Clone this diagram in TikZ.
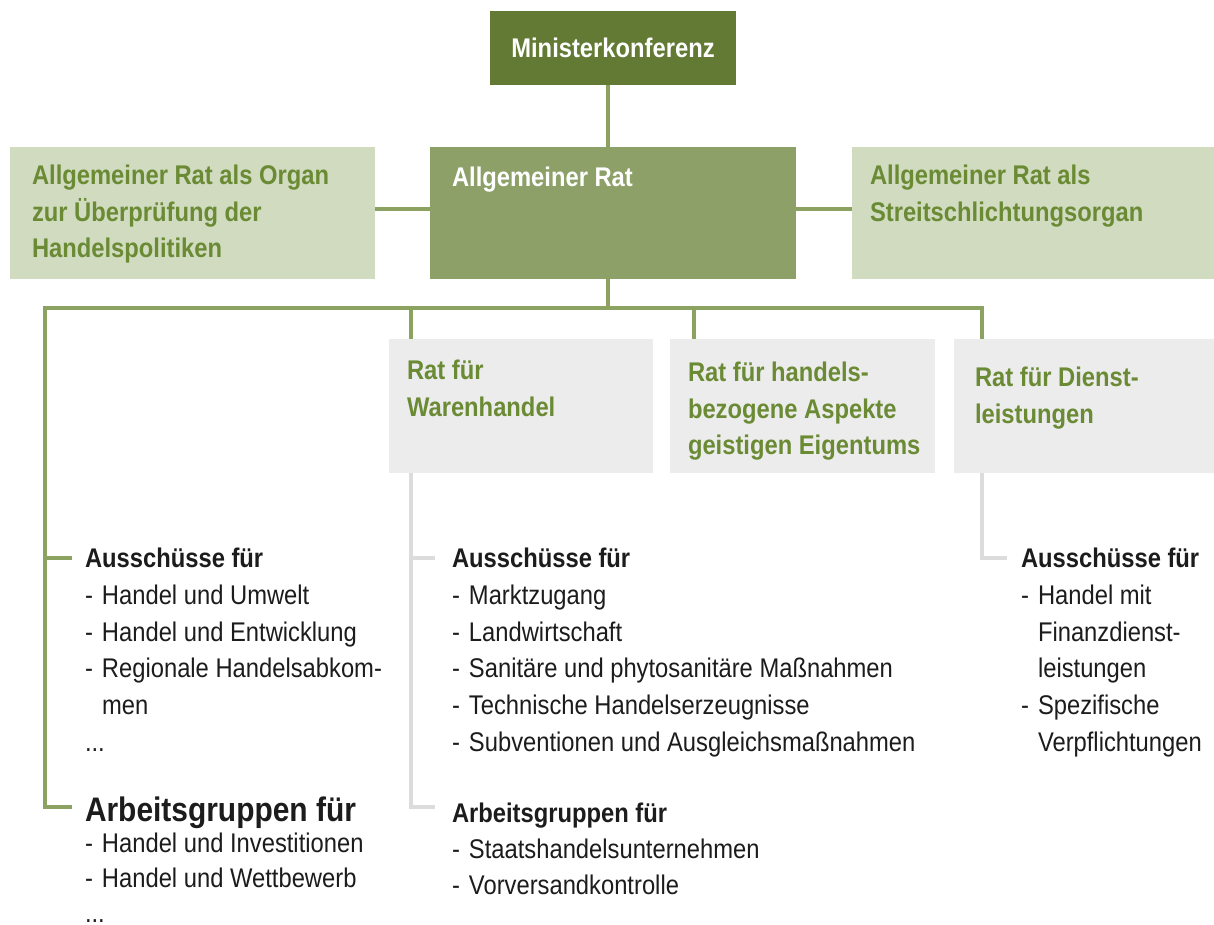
\documentclass[tikz,border=0pt]{standalone}
\usepackage{fontspec}
\setmainfont[FakeStretch=0.88]{Liberation Sans}
\usetikzlibrary{positioning}
\definecolor{mkgreen}{HTML}{627A34}
\definecolor{argreen}{HTML}{8CA067}
\definecolor{palegreen}{HTML}{D0DBBF}
\definecolor{textgreen}{HTML}{6A8A34}
\definecolor{linegreen}{HTML}{8BA261}
\definecolor{boxgrey}{HTML}{ECECEC}
\definecolor{linegrey}{HTML}{DCDCDC}
\definecolor{listblack}{HTML}{1C1C1C}
\newcommand{\itemdash}{\makebox[17pt][l]{-}}
\newcommand{\itemgap}{\hspace*{17pt}}

\begin{document}
\begin{tikzpicture}[x=1pt, y=-1pt,
    every node/.style={inner sep=0pt, outer sep=0pt, anchor=north west},
    orgbox/.style={minimum height=132pt},
    darkbox/.style={fill=mkgreen, text=white, font=\fontsize{27}{36.8}\selectfont\bfseries},
    midbox/.style={orgbox, fill=argreen},
    palebox/.style={orgbox, fill=palegreen},
    greybox/.style={minimum height=134pt, fill=boxgrey},
    greentext/.style={text=textgreen, align=left, font=\fontsize{27}{36.6}\selectfont\bfseries},
    whitetext/.style={greentext, text=white},
    listtext/.style={text=listblack, align=left, font=\fontsize{27}{36.8}\selectfont},
    greenline/.style={draw=linegreen, line width=4pt},
    greyline/.style={draw=linegrey, line width=4pt}]
    \fill[white] (0,0) rectangle (1214,925);
    %
    \node[darkbox, minimum width=246pt, minimum height=74pt, anchor=center]
        (mk) at (613,48) {Ministerkonferenz};
    \node[midbox, minimum width=366pt] (ar) at (430,147) {};
    \node[palebox, minimum width=365pt] (tprb) at (10,147) {};
    \node[palebox, minimum width=362pt] (dsb) at (852,147) {};

    \node[greybox, minimum width=264pt] (waren) at (389,339) {};
    \node[greybox, minimum width=265pt] (trips) at (670,339) {};
    \node[greybox, minimum width=260pt] (dienst) at (954,339) {};

    % box texts
    \node[whitetext] (artext) at (452,167) {Allgemeiner Rat};
    \node[greentext] (tprbtext) at (32,165)
        {Allgemeiner Rat als Organ\\zur Überprüfung der\\Handelspolitiken};
    \node[greentext] (dsbtext) at (870,165)
        {Allgemeiner Rat als\\Streitschlichtungsorgan};
    \node[greentext] (warentext) at (407,360) {Rat für\\Warenhandel};
    \node[greentext] (tripstext) at (688,362)
        {Rat für handels-\\bezogene Aspekte\\geistigen Eigentums};
    \node[greentext] (diensttext) at (975,367) {Rat für Dienst-\\leistungen};

    % committees and working groups
    \node[listtext] (ausA) at (85,548) {\textbf{Ausschüsse für}\\
        \itemdash Handel und Umwelt\\
        \itemdash Handel und Entwicklung\\
        \itemdash Regionale Handelsabkom-\\
        \itemgap men\\
        ...};
    \node[listtext, font=\fontsize{34}{40}\selectfont\bfseries] (agA) at (85,797)
        {Arbeitsgruppen für};
    \node[listtext, font=\fontsize{27}{35}\selectfont] (agAlist) at (85,833) {%
        \itemdash Handel und Investitionen\\
        \itemdash Handel und Wettbewerb\\
        ...};

    \node[listtext] (ausB) at (452,548) {\textbf{Ausschüsse für}\\
        \itemdash Marktzugang\\
        \itemdash Landwirtschaft\\
        \itemdash Sanitäre und phytosanitäre Maßnahmen\\
        \itemdash Technische Handelserzeugnisse\\
        \itemdash Subventionen und Ausgleichsmaßnahmen};
    \node[listtext, font=\fontsize{27}{36}\selectfont] (agB) at (452,803)
        {\textbf{Arbeitsgruppen für}\\
        \itemdash Staatshandelsunternehmen\\
        \itemdash Vorversandkontrolle};

    \node[listtext] (ausC) at (1021,548) {\textbf{Ausschüsse für}\\
        \itemdash Handel mit\\
        \itemgap Finanzdienst-\\
        \itemgap leistungen\\
        \itemdash Spezifische\\
        \itemgap Verpflichtungen};

    % connectors
    \coordinate (trunk) at (608,0);
    \coordinate (busL) at (45,308);
    \coordinate (busR) at (982,308);
    \coordinate (dropW) at (411,308);
    \coordinate (dropT) at (694,308);
    \coordinate (tickA1) at (72,558);
    \coordinate (tickA2) at (72,807);
    \coordinate (tickW1) at (435,558);
    \coordinate (tickW2) at (435,807);
    \coordinate (tickD) at (1007,558);

    \draw[greenline] (trunk |- mk.south) -- (trunk |- ar.north);
    \draw[greenline] ([yshift=4pt]tprb.east) -- ([yshift=4pt]tprb.east -| ar.west);
    \draw[greenline] ([yshift=4pt]ar.east) -- ([yshift=4pt]ar.east -| dsb.west);
    \draw[greenline] (trunk |- ar.south) -- (trunk |- busL);
    \draw[greenline] (busR |- dienst.north) -- (busR) -- (busL) |- (tickA2);
    \draw[greenline] (busL |- tickA1) -- (tickA1);
    \draw[greenline] (dropW) -- (dropW |- waren.north);
    \draw[greenline] (dropT) -- (dropT |- trips.north);

    \draw[greyline] (dropW |- waren.south) |- (tickW2);
    \draw[greyline] (dropW |- tickW1) -- (tickW1);
    \draw[greyline] (busR |- dienst.south) |- (tickD);
\end{tikzpicture}
\end{document}
